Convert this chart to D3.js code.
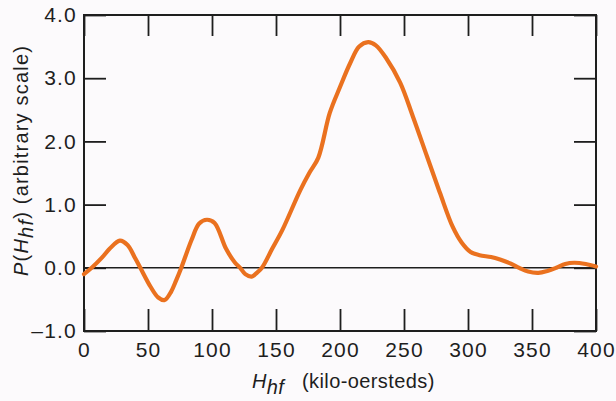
<!DOCTYPE html>
<html>
<head>
<meta charset="utf-8">
<script src="https://cdn.jsdelivr.net/npm/d3@7"></script>
<style>
  html, body { margin: 0; padding: 0; background: #fcfafc; }
  svg { display: block; }
  text { font-family: "Liberation Sans", Arial, sans-serif; fill: #1e1e1e; }
</style>
</head>
<body>
<svg id="chart" width="616" height="401"></svg>
<script>
// field values (kOe) and distribution P(Hhf)
const fieldKOe = [0, 6, 14, 20, 28, 34, 40, 44, 52, 58, 63, 68, 72, 76, 84, 90, 96, 102, 111, 118, 122, 126, 131, 135, 139,
  147, 155, 169, 176, 183, 192, 200, 208, 215, 222, 228, 236, 247, 257, 268, 278, 288, 295, 302, 309, 318, 325,
  333, 340, 347, 355, 362, 369, 376, 383, 392, 400];
const pValues = [-0.1, 0, 0.16, 0.3, 0.43, 0.36, 0.15, 0, -0.3, -0.47, -0.51, -0.38, -0.2, 0, 0.44, 0.7, 0.76, 0.71, 0.3, 0.08, 0, -0.1, -0.14, -0.08, 0,
  0.3, 0.6, 1.23, 1.5, 1.74, 2.45, 2.86, 3.24, 3.5, 3.57, 3.52, 3.32, 2.93, 2.39, 1.76, 1.19, 0.65, 0.4, 0.25, 0.2, 0.17, 0.13,
  0.07, 0, -0.06, -0.08, -0.05, 0, 0.06, 0.08, 0.06, 0.02];
const xTicks = [0, 50, 100, 150, 200, 250, 300, 350, 400];
const yTicks = [-1, 0, 1, 2, 3, 4];

const svg = d3.select("#chart");
const plotL = 84, plotR = 596, plotT = 15, plotB = 331;

const x = d3.scaleLinear().domain([0, 400]).range([plotL, plotR]);
const y = d3.scaleLinear().domain([-1, 4]).range([plotB, plotT]);

// inward ticks on all four sides
svg.append("g")
  .attr("transform", `translate(0,${plotB})`)
  .call(d3.axisBottom(x).tickValues(xTicks).tickSize(-22).tickPadding(11).tickFormat(d3.format("d")));
svg.append("g")
  .attr("transform", `translate(0,${plotT})`)
  .call(d3.axisTop(x).tickValues(xTicks).tickSize(-21).tickFormat(""));
svg.append("g")
  .attr("transform", `translate(${plotL},0)`)
  .call(d3.axisLeft(y).tickValues(yTicks).tickSize(-22).tickPadding(7)
    .tickFormat(d => (d < 0 ? "\u2013" + Math.abs(d).toFixed(1) : d.toFixed(1))));
svg.append("g")
  .attr("transform", `translate(${plotR},0)`)
  .call(d3.axisRight(y).tickValues(yTicks).tickSize(-22).tickFormat(""));

svg.selectAll(".domain").remove();
svg.selectAll(".tick line").attr("stroke", "#1e1e1e").attr("stroke-width", 1.8);
svg.selectAll(".tick text")
  .attr("font-size", 21)
  .style("letter-spacing", "1.2px")
  .style("font-family", "'Liberation Sans', Arial, sans-serif")
  .attr("fill", "#1e1e1e");

// frame
svg.append("rect")
  .attr("x", plotL).attr("y", plotT)
  .attr("width", plotR - plotL).attr("height", plotB - plotT)
  .attr("fill", "none").attr("stroke", "#1e1e1e").attr("stroke-width", 2);

// zero line
svg.append("line")
  .attr("x1", x(0)).attr("x2", x(400))
  .attr("y1", y(0)).attr("y2", y(0))
  .attr("stroke", "#1e1e1e").attr("stroke-width", 1.5);

// curve
const line = d3.line()
  .x((d, i) => x(fieldKOe[i]))
  .y(d => y(d))
  .curve(d3.curveCatmullRom.alpha(0.5));

svg.append("path")
  .datum(pValues)
  .attr("d", line)
  .attr("fill", "none")
  .attr("stroke", "#ea711f")
  .attr("stroke-width", 4.2)
  .attr("stroke-linejoin", "round")
  .attr("stroke-linecap", "round");

// x axis title
const xt = svg.append("text")
  .attr("x", 252).attr("y", 388)
  .attr("font-size", 20)
  .style("letter-spacing", "0.4px");
xt.append("tspan").attr("font-style", "italic").text("H");
xt.append("tspan").attr("font-style", "italic").attr("dy", 6).text("hf");
xt.append("tspan").attr("dy", -6).attr("x", 302).text("(kilo-oersteds)");

// y axis title
const yt = svg.append("text")
  .attr("transform", "translate(28,276) rotate(-90)")
  .attr("font-size", 20)
  .style("letter-spacing", "1.2px");
yt.append("tspan").attr("font-style", "italic").text("P");
yt.append("tspan").text("(");
yt.append("tspan").attr("font-style", "italic").text("H");
yt.append("tspan").attr("font-style", "italic").attr("dy", 5).text("hf");
yt.append("tspan").attr("dy", -5).text(")  (arbitrary scale)");
</script>
</body>
</html>
